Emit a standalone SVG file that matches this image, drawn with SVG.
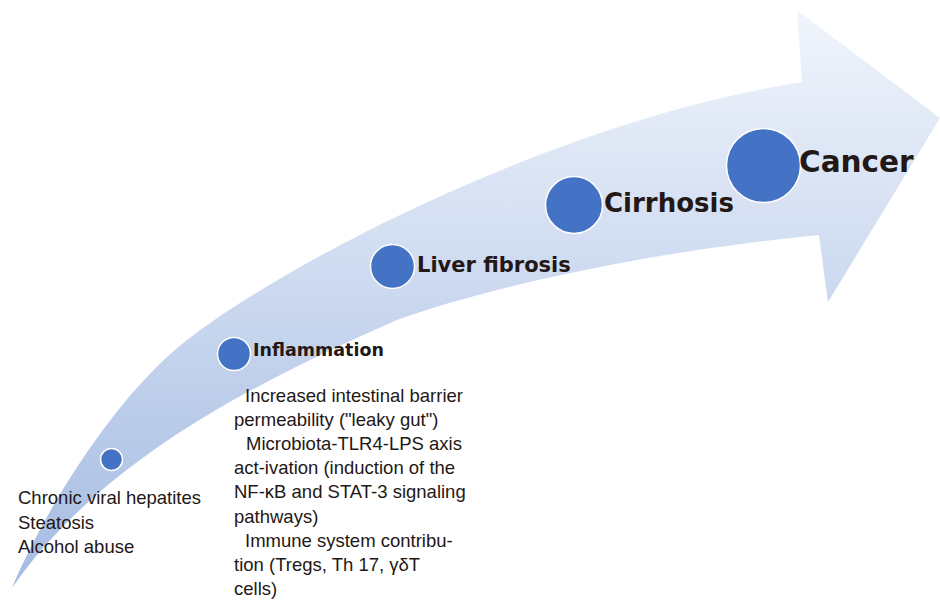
<svg xmlns="http://www.w3.org/2000/svg" width="940" height="603" viewBox="0 0 940 603">
  <defs>
    <linearGradient id="arrowGrad" gradientUnits="userSpaceOnUse" x1="0" y1="10" x2="0" y2="590">
      <stop offset="0" stop-color="#f1f5fc"/>
      <stop offset="1" stop-color="#a4bbe2"/>
    </linearGradient>
  </defs>
  <style>
    .dot { fill: #4472c4; stroke: #ffffff; stroke-width: 1.5; }
    .lbl { font-family: "DejaVu Sans", Verdana, sans-serif; font-weight: bold; fill: #231815; }
    .body { font-family: "Liberation Sans", Arial, sans-serif; font-size: 18.5px; fill: #231815; }
  </style>
  <rect width="940" height="603" fill="#ffffff"/>
  <g id="arrow">
    <path fill="url(#arrowGrad)" d="M12,588 C40,520 110,400 187,340 C290,260 560,120 802,82 L797,10 L940,118 L828,302 L819,235 C640,252 480,290 397,320 C260,380 100,460 12,588 Z"/>
  </g>
  <g id="connectors"></g>
  <g id="node-start">
    <circle class="dot" cx="111.5" cy="459.5" r="11"/>
    <text class="body" x="18" y="504">Chronic viral hepatites</text>
    <text class="body" x="18" y="528.5">Steatosis</text>
    <text class="body" x="18" y="553">Alcohol abuse</text>
  </g>
  <g id="node-inflammation">
    <circle class="dot" cx="234" cy="354" r="16.5"/>
    <text class="lbl" x="253" y="356" font-size="17.5">Inflammation</text>
    <text class="body" x="245" y="402">Increased intestinal barrier</text>
    <text class="body" x="234" y="426">permeability ("leaky gut")</text>
    <text class="body" x="246" y="450">Microbiota-TLR4-LPS axis</text>
    <text class="body" x="234" y="474">act-ivation (induction of the</text>
    <text class="body" x="234" y="498">NF-κB and STAT-3 signaling</text>
    <text class="body" x="234" y="522.5">pathways)</text>
    <text class="body" x="245" y="546.5">Immune system contribu-</text>
    <text class="body" x="234" y="570.5">tion (Tregs, Th 17, γδT</text>
    <text class="body" x="234" y="595">cells)</text>
  </g>
  <g id="node-liver-fibrosis">
    <circle class="dot" cx="392.5" cy="266.5" r="22"/>
    <text class="lbl" x="417" y="272" font-size="21">Liver fibrosis</text>
  </g>
  <g id="node-cirrhosis">
    <circle class="dot" cx="574" cy="205" r="28.5"/>
    <text class="lbl" x="604" y="212" font-size="26">Cirrhosis</text>
  </g>
  <g id="node-cancer">
    <circle class="dot" cx="763.5" cy="165.5" r="37"/>
    <text class="lbl" x="799" y="172" font-size="29.5" font-family="DejaVu Sans, sans-serif">Cancer</text>
  </g>
</svg>
